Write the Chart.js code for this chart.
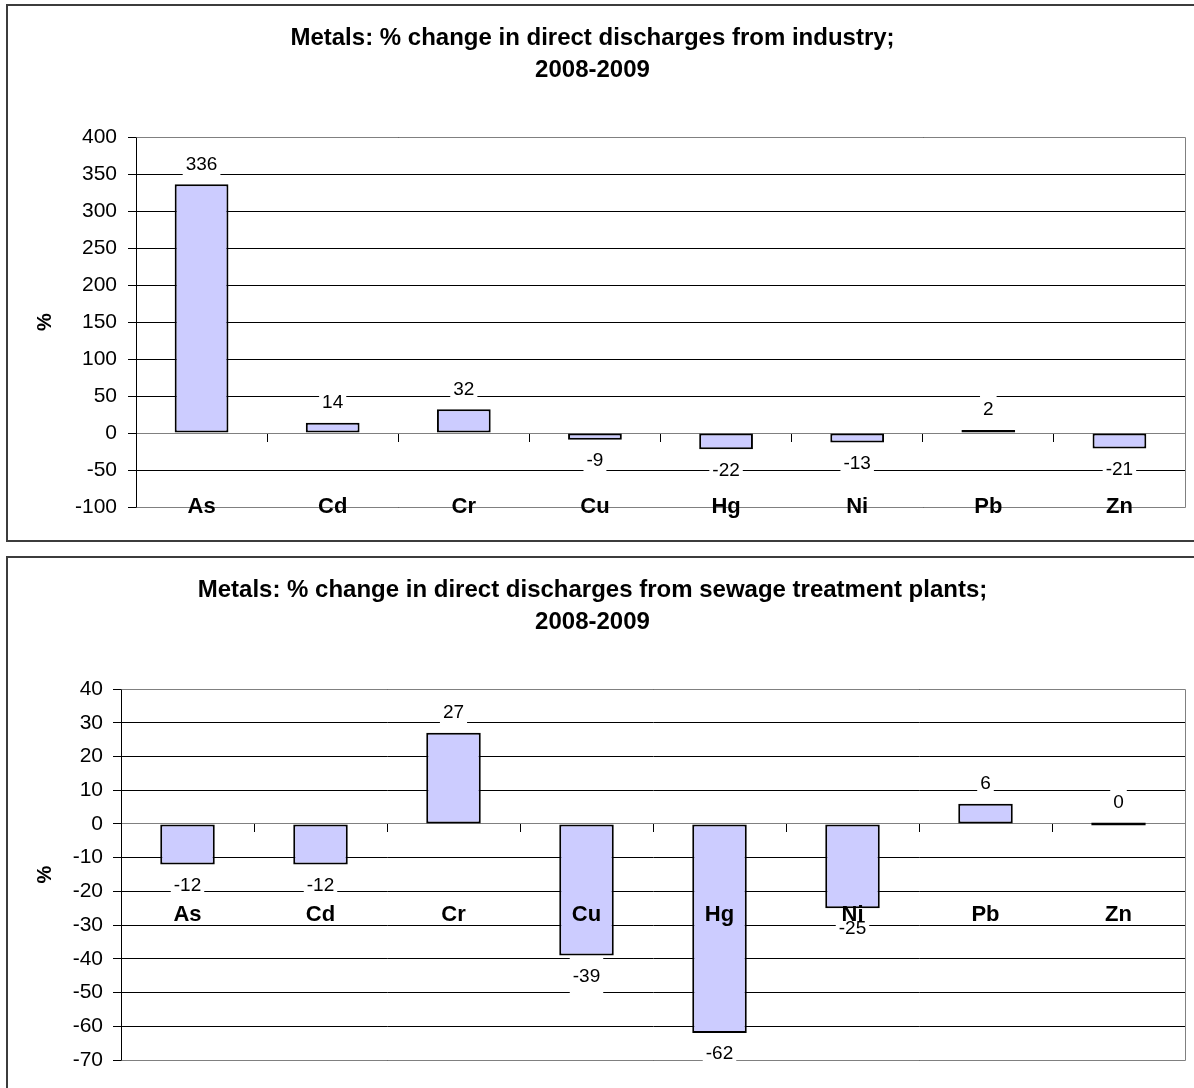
<!DOCTYPE html>
<html>
<head>
<meta charset="utf-8">
<title>Metals: % change in direct discharges 2008-2009</title>
<script src="https://cdn.jsdelivr.net/npm/chart.js@4.4.1/dist/chart.umd.min.js"></script>
<style>
  html, body { margin: 0; padding: 0; background: #fff; overflow: hidden; width: 1194px; height: 1088px; position: relative; }
  .frame { position: absolute; border: 2px solid #3c3c3c; box-sizing: border-box; }
  #frameTop { left: 6px; top: 4px; width: 1400px; height: 538px; }
  #frameBottom { left: 6px; top: 556px; width: 1400px; height: 700px; }
  .panel { position: absolute; left: 0; width: 1194px; }
  #panelTop { top: 0; height: 548px; }
  #panelBottom { top: 548px; height: 540px; }
</style>
</head>
<body>
<div class="frame" id="frameTop"></div>
<div class="frame" id="frameBottom"></div>
<div class="panel" id="panelTop"><canvas id="industry"></canvas></div>
<div class="panel" id="panelBottom"><canvas id="sewage"></canvas></div>
<script>
// Metals and their % change in direct discharges, 2008-2009
const metals = ['As', 'Cd', 'Cr', 'Cu', 'Hg', 'Ni', 'Pb', 'Zn'];
const industryChange = [336, 14, 32, -9, -22, -13, 2, -21];
const sewageChange = [-12, -12, 27, -39, -62, -25, 6, 0];

const industryTitle = ['Metals: % change in direct discharges from industry;', '2008-2009'];
const sewageTitle = ['Metals: % change in direct discharges from sewage treatment plants;', '2008-2009'];

const industryTicks = { min: -100, max: 400, step: 50 };
const sewageTicks = { min: -70, max: 40, step: 10 };

Chart.defaults.font.family = '"Liberation Sans", Arial, Helvetica, sans-serif';
Chart.defaults.color = '#000';

// Grey frame around the plot area (top, right and bottom edges)
const plotFrame = {
  id: 'plotFrame',
  beforeDatasetsDraw(chart) {
    const { ctx, chartArea: a } = chart;
    const al = p => Math.round(p - 0.5) + 0.5;
    ctx.save();
    ctx.strokeStyle = '#808080';
    ctx.lineWidth = 1;
    ctx.beginPath();
    ctx.moveTo(al(a.left), al(a.top));
    ctx.lineTo(al(a.right), al(a.top));
    ctx.lineTo(al(a.right), al(a.bottom));
    ctx.lineTo(al(a.left), al(a.bottom));
    ctx.stroke();
    ctx.restore();
  }
};

// Value tags on white boxes just outside the end of each bar
const valueTags = {
  id: 'valueTags',
  afterDatasetsDraw(chart) {
    const { ctx } = chart;
    const meta = chart.getDatasetMeta(0);
    const values = chart.data.datasets[0].data;
    ctx.save();
    ctx.font = '19px "Liberation Sans", Arial, sans-serif';
    ctx.textAlign = 'center';
    ctx.textBaseline = 'middle';
    meta.data.forEach((bar, i) => {
      const v = values[i];
      const text = String(v);
      const y = v >= 0 ? Math.min(bar.y, bar.base) - 21 : Math.max(bar.y, bar.base) + 20;
      const w = ctx.measureText(text).width + 6;
      ctx.fillStyle = '#fff';
      ctx.fillRect(bar.x - w / 2, y - 18, w, 36);
      ctx.fillStyle = '#000';
      ctx.fillText(text, bar.x, y + 1);
    });
    ctx.restore();
  }
};

function buildChart(canvasId, values, titleLines, range, g) {
  return new Chart(document.getElementById(canvasId), {
    type: 'bar',
    data: {
      labels: metals,
      datasets: [{
        data: values,
        backgroundColor: '#CCCCFF',
        borderColor: '#000',
        borderWidth: 2,
        borderSkipped: false,
        barPercentage: 0.41,
        categoryPercentage: 1,
        minBarLength: 3
      }]
    },
    options: {
      responsive: true,
      maintainAspectRatio: false,
      animation: false,
      layout: { padding: { left: 0, right: 9, top: 0, bottom: g.bottomPad } },
      plugins: {
        legend: { display: false },
        tooltip: { enabled: false },
        title: {
          display: true,
          text: titleLines,
          color: '#000',
          font: { size: 24, weight: 'bold', lineHeight: 32 / 24 },
          padding: { top: g.titleTop, bottom: g.titleBottom }
        }
      },
      scales: {
        x: {
          type: 'category',
          position: { y: 0 },
          offset: true,
          grid: { offset: true, drawOnChartArea: false, drawTicks: true, tickLength: 8, tickColor: '#000' },
          border: { color: '#808080' },
          ticks: { display: false }
        },
        names: {
          type: 'category',
          axis: 'x',
          position: { y: 0 },
          offset: true,
          grid: { display: false, drawTicks: false },
          border: { display: false },
          ticks: {
            z: 1,
            padding: g.labelPad,
            color: '#000',
            font: { size: 22, weight: 'bold' },
            maxRotation: 0,
            autoSkip: false
          },
          afterFit(scale) { scale.paddingLeft = 0; scale.paddingRight = 0; }
        },
        y: {
          min: range.min,
          max: range.max,
          ticks: { stepSize: range.step, padding: g.tickPad, color: '#000', font: { size: 21 } },
          grid: {
            color: c => (c.tick && c.tick.value === 0 ? '#808080' : '#000'),
            tickColor: '#000',
            tickLength: 8
          },
          border: { color: '#000' },
          title: {
            display: true,
            text: '%',
            color: '#000',
            font: { size: 20, weight: 'bold' },
            padding: { top: 33, bottom: 0 }
          },
          afterFit(scale) { scale.width = g.axisWidth; }
        }
      }
    },
    plugins: [plotFrame, valueTags]
  });
}

buildChart('industry', industryChange, industryTitle, industryTicks,
  { bottomPad: 41, titleTop: 22, titleBottom: 51, labelPad: 61, tickPad: 11, axisWidth: 136 });
buildChart('sewage', sewageChange, sewageTitle, sewageTicks,
  { bottomPad: 28, titleTop: 26, titleBottom: 51, labelPad: 78, tickPad: 10, axisWidth: 121 });
</script>
</body>
</html>
